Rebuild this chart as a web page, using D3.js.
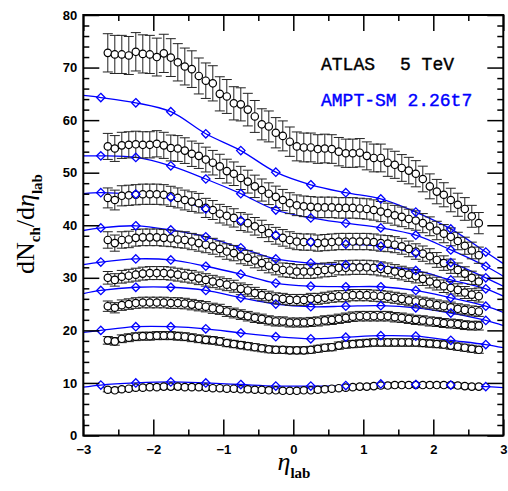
<!DOCTYPE html>
<html><head><meta charset="utf-8">
<script src="https://cdn.jsdelivr.net/npm/d3@7"></script>
<style>body{margin:0;background:#fff}</style>
</head><body><svg id="c" width="508" height="491"></svg>
<script>
// ATLAS data: eta bin centres
const etaData = [-2.65,-2.55,-2.45,-2.35,-2.25,-2.15,-2.05,-1.95,-1.85,-1.75,-1.65,-1.55,-1.45,-1.35,-1.25,-1.15,-1.05,-0.95,-0.85,-0.75,-0.65,-0.55,-0.45,-0.35,-0.25,-0.15,-0.05,
 0.05,0.15,0.25,0.35,0.45,0.55,0.65,0.75,0.85,0.95,1.05,1.15,1.25,1.35,1.45,1.55,1.65,1.75,1.85,1.95,2.05,2.15,2.25,2.35,2.45,2.55,2.65];
const atlas1 = [72.8,72.5,72.5,72.3,73.0,72.6,72.5,72.0,72.7,71.9,71.0,70.2,69.7,68.4,67.5,67.0,65.0,64.5,63.2,63.0,62.0,60.7,59.2,58.8,57.6,57.0,55.9,
 55.0,54.8,54.8,54.5,54.6,54.5,54.0,53.7,53.7,53.8,53.2,52.8,52.8,51.9,51.5,50.9,50.4,49.8,48.8,47.4,46.4,45.8,44.8,43.9,43.1,41.7,40.4];
const atlas2 = [55.0,54.6,55.2,55.3,55.4,55.3,55.3,55.5,55.2,54.7,54.6,54.2,53.6,53.2,52.5,51.9,51.2,50.3,49.8,49.0,48.3,47.4,46.7,46.0,45.4,44.8,44.2,
 43.8,43.6,43.5,43.4,43.4,43.4,43.3,43.3,43.3,43.2,43.1,42.9,42.6,42.3,41.9,41.6,41.2,40.9,40.4,39.8,39.0,38.4,37.8,37.0,36.1,35.2,34.3];
const atlas3 = [45.2,44.8,45.6,45.7,45.8,45.9,45.9,45.9,45.8,45.5,45.2,44.8,44.5,44.2,43.3,42.9,42.2,41.8,41.4,40.7,40.4,39.8,39.3,38.5,38.0,37.6,37.2,
 36.9,36.8,36.8,36.6,36.7,36.8,36.9,36.9,36.9,36.9,36.9,36.8,36.6,36.5,36.3,36.0,35.5,35.0,34.6,34.1,33.4,32.8,32.2,31.5,30.8,30.0,29.3];
const atlas4 = [37.2,36.6,37.2,37.3,37.6,37.7,37.7,37.7,37.6,37.5,37.3,37.2,36.9,36.6,36.3,36.0,35.5,35.0,34.7,34.1,33.8,33.3,32.8,32.3,31.9,31.5,31.4,
 31.2,31.2,31.2,31.3,31.5,31.6,31.9,31.9,32.0,32.0,32.0,31.9,31.7,31.5,31.2,30.9,30.6,30.3,29.8,29.3,28.9,28.4,28.1,27.7,27.2,26.8,26.5];
const atlas5 = [30.0,29.6,30.2,30.4,30.6,30.8,30.9,30.9,30.9,30.8,30.6,30.4,30.2,29.9,29.6,29.3,29.0,28.7,28.4,27.9,27.6,27.1,26.7,26.4,26.1,26.0,25.8,
 25.8,25.8,26.0,26.0,26.2,26.4,26.5,26.5,26.7,26.7,26.7,26.6,26.5,26.4,26.2,26.0,25.7,25.5,25.3,25.1,24.8,24.6,24.4,24.1,23.9,23.7,23.6];
const atlas6 = [24.6,24.3,24.8,25.0,25.2,25.3,25.3,25.3,25.3,25.2,25.2,25.1,24.9,24.7,24.5,24.2,24.0,23.6,23.3,23.0,22.7,22.4,22.2,21.9,21.7,21.7,21.5,
 21.5,21.5,21.6,21.7,21.9,22.0,22.2,22.4,22.6,22.7,22.7,22.7,22.7,22.7,22.5,22.4,22.2,22.0,21.9,21.7,21.6,21.4,21.3,21.2,21.0,20.9,20.9];
const atlas7 = [18.1,17.9,18.4,18.6,18.8,18.9,18.9,19.0,19.0,19.0,18.9,18.8,18.6,18.4,18.2,18.1,17.9,17.6,17.4,17.2,17.0,16.8,16.6,16.4,16.3,16.3,16.2,
 16.2,16.2,16.3,16.5,16.7,16.8,17.1,17.3,17.4,17.5,17.6,17.7,17.7,17.7,17.7,17.7,17.7,17.7,17.6,17.5,17.4,17.3,17.1,16.9,16.7,16.5,16.3];
const atlas8 = [8.7,8.6,8.8,8.9,9.1,9.1,9.2,9.2,9.3,9.3,9.3,9.2,9.2,9.2,9.1,9.0,9.0,8.9,8.9,8.8,8.8,8.7,8.7,8.6,8.6,8.5,8.5,
 8.5,8.6,8.6,8.7,8.8,8.9,9.0,9.1,9.2,9.3,9.3,9.4,9.5,9.5,9.6,9.6,9.6,9.6,9.6,9.6,9.6,9.6,9.6,9.5,9.4,9.3,9.3];
const atlasRelErr = [0.05,0.045,0.042,0.042,0.04,0.04,0.04,0.045];

// AMPT-SM curves
const amptEta = [-3,-2.75,-2.25,-1.75,-1.25,-0.75,-0.25,0.25,0.75,1.25,1.75,2.25,2.75,3];
const ampt1 = [64.7,64.3,63.3,61.6,57.4,54.2,50.1,47.7,46.2,45.0,42.5,39.3,34.9,32.7];
const ampt2 = [53.2,53.2,52.9,51.3,48.8,46.0,42.9,41.4,40.4,39.5,38.1,35.3,32.2,30.3];
const ampt3 = [46.0,46.2,45.9,45.3,43.1,40.9,38.1,36.8,36.4,36.0,34.7,32.9,30.0,28.4];
const ampt4 = [39.0,39.5,39.9,39.1,37.8,35.7,33.6,32.8,32.5,32.2,31.4,29.6,27.9,26.5];
const ampt5 = [32.5,33.0,33.6,33.4,32.2,30.7,29.0,28.4,28.3,28.3,27.6,26.2,24.6,23.4];
const ampt6 = [27.0,27.6,28.2,28.2,27.6,26.2,25.0,24.5,24.6,24.7,24.3,23.3,21.9,20.9];
const ampt7 = [19.6,20.0,20.7,20.7,20.3,19.5,18.8,18.4,18.7,19.0,18.9,18.1,17.3,16.7];
const ampt8 = [9.2,9.6,10.0,10.2,10.0,9.7,9.4,9.4,9.5,9.8,9.7,9.6,9.3,9.1];

const xTicks = [-3,-2,-1,0,1,2,3];
const xMinor = [-2.5,-1.5,-0.5,0.5,1.5,2.5];
const yTicks = [0,10,20,30,40,50,60,70,80];
const yMinor = [2,4,6,8,12,14,16,18,22,24,26,28,32,34,36,38,42,44,46,48,52,54,56,58,62,64,66,68,72,74,76,78];

const atlasSeries = [atlas1,atlas2,atlas3,atlas4,atlas5,atlas6,atlas7,atlas8];
const amptSeries = [ampt1,ampt2,ampt3,ampt4,ampt5,ampt6,ampt7,ampt8];

const svg = d3.select("#c");
const L = 83.3, R = 503.3, T = 15, B = 435.5;
const x = d3.scaleLinear().domain([-3,3]).range([L,R]);
const y = d3.scaleLinear().domain([0,80]).range([B,T]);

const blue = "#0000ff";
svg.append("clipPath").attr("id","pc").append("rect")
  .attr("x",L).attr("y",T).attr("width",R-L).attr("height",B-T);

// AMPT lines
const line = d3.line().x(d=>x(d[0])).y(d=>y(d[1])).curve(d3.curveCatmullRom.alpha(0.5));
const gA = svg.append("g").attr("clip-path","url(#pc)");
amptSeries.forEach(s=>{
  gA.append("path").datum(amptEta.map((e,i)=>[e,s[i]]))
    .attr("d",line).attr("fill","none").attr("stroke",blue).attr("stroke-width",1.3);
});

// ATLAS data
const gD = svg.append("g");
atlasSeries.forEach((s,k)=>{
  const pts = etaData.map((e,i)=>({e, v:s[i], err:s[i]*atlasRelErr[k]}));
  const g = gD.append("g");
  g.selectAll("line.v").data(pts).join("line").attr("class","v")
    .attr("x1",d=>x(d.e)).attr("x2",d=>x(d.e))
    .attr("y1",d=>y(d.v-d.err)).attr("y2",d=>y(d.v+d.err))
    .attr("stroke","#222").attr("stroke-width",1);
  ["lo","hi"].forEach(w=>{
    g.selectAll("line."+w).data(pts).join("line").attr("class",w)
      .attr("x1",d=>x(d.e)-5).attr("x2",d=>x(d.e)+5)
      .attr("y1",d=>y(w==="lo"?d.v-d.err:d.v+d.err)).attr("y2",d=>y(w==="lo"?d.v-d.err:d.v+d.err))
      .attr("stroke","#222").attr("stroke-width",1);
  });
  g.selectAll("circle").data(pts).join("circle")
    .attr("cx",d=>x(d.e)).attr("cy",d=>y(d.v)).attr("r",3.7)
    .attr("fill","#fff").attr("stroke","#000").attr("stroke-width",1.2);
});

// AMPT diamonds
const gM = svg.append("g");
amptSeries.forEach(s=>{
  const pts = amptEta.map((e,i)=>[e,s[i]]).filter(d=>Math.abs(d[0])<3);
  gM.selectAll(null).data(pts).join("path")
    .attr("d",d=>{const cx=x(d[0]),cy=y(d[1]),h=4.2;return `M${cx},${cy-h}L${cx+h},${cy}L${cx},${cy+h}L${cx-h},${cy}Z`;})
    .attr("fill","none").attr("stroke",blue).attr("stroke-width",1.3);
});

// Axes
const font = "'Liberation Sans', Arial, sans-serif";
function styleAxis(g){
  g.select(".domain").remove();
  g.selectAll(".tick line").attr("stroke","#000").attr("stroke-width",1.5);
  g.selectAll("text").attr("fill","#000").style("font-family",font).style("font-weight","bold").style("font-size","13px");
}
svg.append("g").attr("transform",`translate(0,${B})`)
  .call(d3.axisBottom(x).tickValues(xTicks).tickSize(-16).tickPadding(9).tickFormat(d3.format("d"))).call(styleAxis);
svg.append("g").attr("transform",`translate(0,${B})`)
  .call(d3.axisBottom(x).tickValues(xMinor).tickSize(-6).tickFormat("")).call(styleAxis);
svg.append("g").attr("transform",`translate(0,${T})`)
  .call(d3.axisTop(x).tickValues(xTicks).tickSize(-16).tickFormat("")).call(styleAxis);
svg.append("g").attr("transform",`translate(0,${T})`)
  .call(d3.axisTop(x).tickValues(xMinor).tickSize(-6).tickFormat("")).call(styleAxis);
svg.append("g").attr("transform",`translate(${L},0)`)
  .call(d3.axisLeft(y).tickValues(yTicks).tickSize(-16).tickPadding(6).tickFormat(d3.format("d"))).call(styleAxis);
svg.append("g").attr("transform",`translate(${L},0)`)
  .call(d3.axisLeft(y).tickValues(yMinor).tickSize(-6).tickFormat("")).call(styleAxis);
svg.append("g").attr("transform",`translate(${R},0)`)
  .call(d3.axisRight(y).tickValues(yTicks).tickSize(-16).tickFormat("")).call(styleAxis);
svg.append("g").attr("transform",`translate(${R},0)`)
  .call(d3.axisRight(y).tickValues(yMinor).tickSize(-6).tickFormat("")).call(styleAxis);

svg.append("rect").attr("x",L).attr("y",T).attr("width",R-L).attr("height",B-T)
  .attr("fill","none").attr("stroke","#000").attr("stroke-width",2);

// Legend
const mono = "'Liberation Mono', 'Courier New', monospace";
svg.append("text").attr("x",321).attr("y",69.5).style("font-family",mono).style("font-size","18px")
  .attr("fill","#000").attr("stroke","#000").attr("stroke-width",0.4).text("ATLAS");
svg.append("text").attr("x",400).attr("y",69.5).style("font-family",mono).style("font-size","18px")
  .attr("fill","#000").attr("stroke","#000").attr("stroke-width",0.4).text("5 TeV");
svg.append("text").attr("x",321).attr("y",106).style("font-family",mono).style("font-size","18px")
  .attr("fill",blue).attr("stroke",blue).attr("stroke-width",0.4).text("AMPT-SM 2.26t7");

// Axis titles
const serif = "'Liberation Serif', 'Times New Roman', serif";
const xt = svg.append("text").attr("x",294).attr("y",470).attr("text-anchor","middle").style("font-family",serif).attr("fill","#000");
xt.append("tspan").style("font-size","26px").style("font-style","italic").text("η");
xt.append("tspan").attr("dy",8).style("font-size","15px").style("font-weight","bold").text("lab");

const yt = svg.append("text").attr("transform","translate(34,224) rotate(-90)").attr("text-anchor","middle")
  .style("font-family",serif).style("font-size","26px").attr("fill","#000");
yt.append("tspan").text("dN");
yt.append("tspan").attr("dy",6).style("font-size","15px").style("font-weight","bold").text("ch");
yt.append("tspan").attr("dy",-6).text("/d");
yt.append("tspan").style("font-style","italic").text("η");
yt.append("tspan").attr("dy",8).style("font-size","15px").style("font-weight","bold").text("lab");
</script>
</body></html>
